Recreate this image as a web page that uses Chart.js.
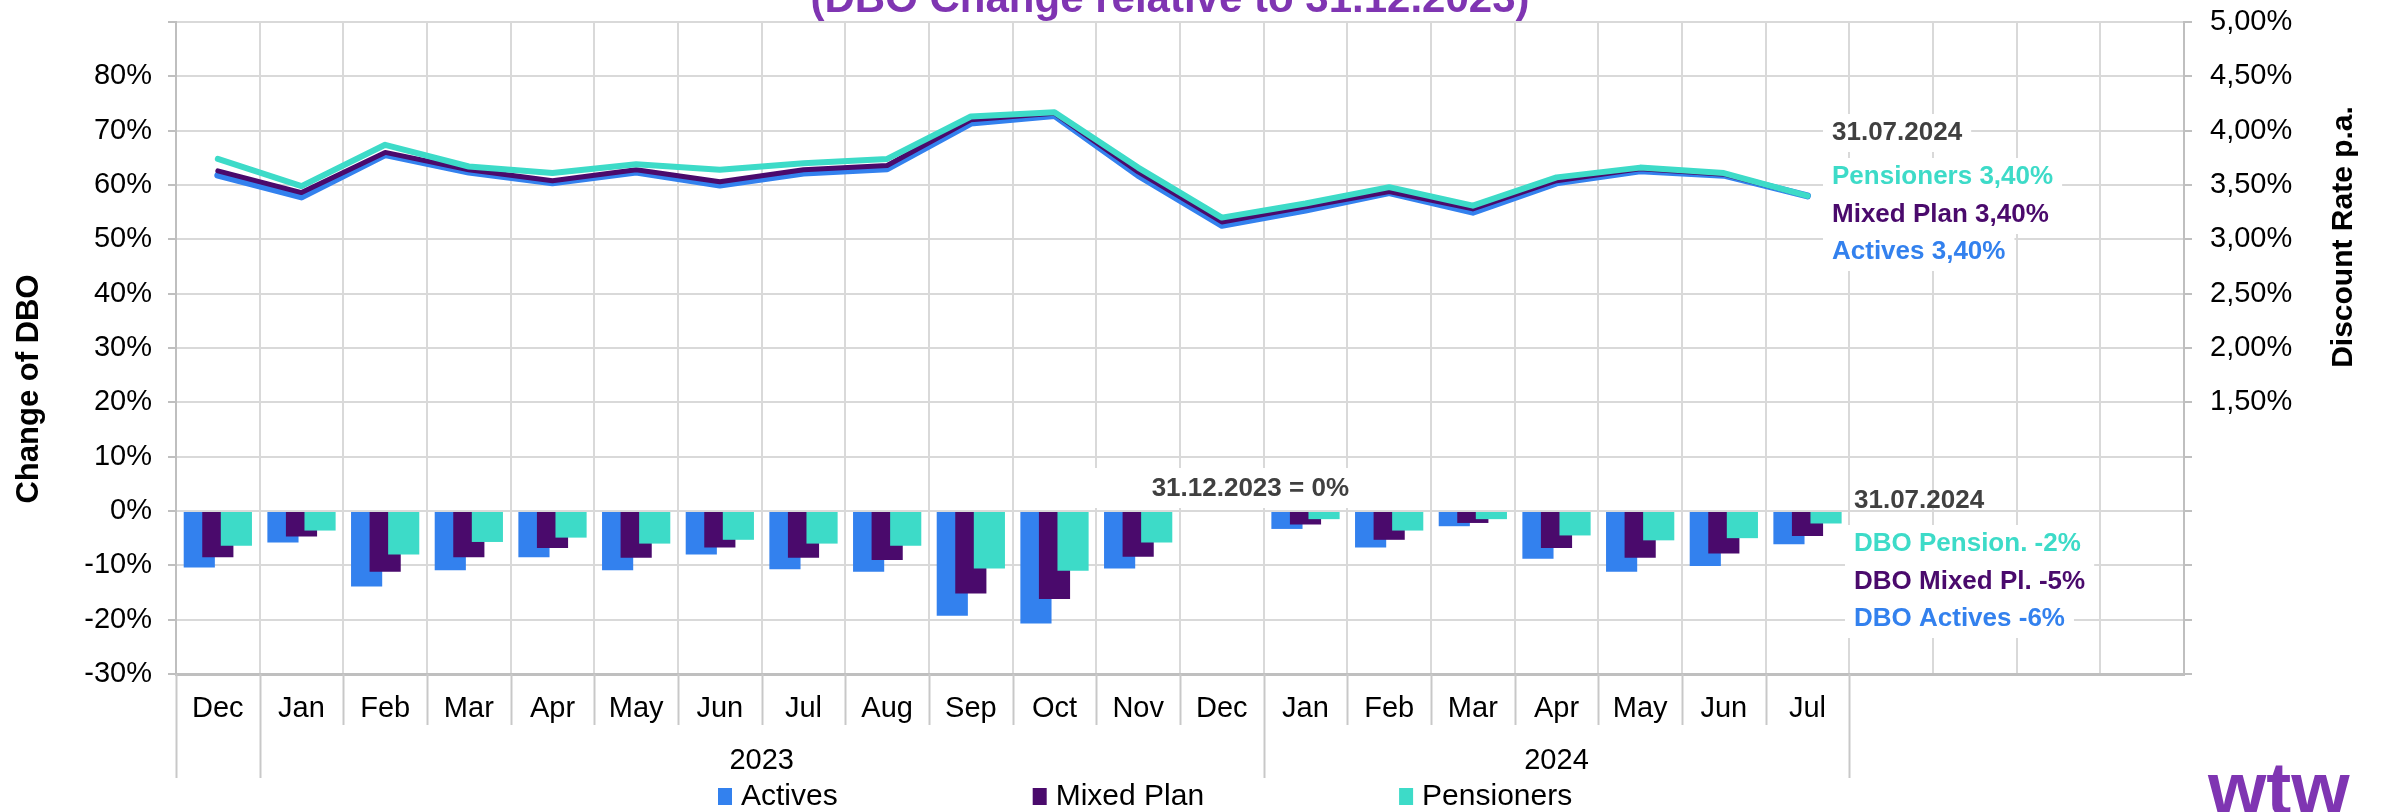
<!DOCTYPE html>
<html>
<head>
<meta charset="utf-8">
<script src="https://cdn.jsdelivr.net/npm/chart.js@4.4.1/dist/chart.umd.min.js"></script>
<style>
  html, body { margin: 0; padding: 0; background: #fff; }
  canvas { display: block; }
</style>
</head>
<body>
<canvas id="dboChart" width="2381" height="812"></canvas>
<script>
// Month axis: Dec 2022 .. Jul 2024, then 4 empty slots for the notes
const months = ['Dec', 'Jan', 'Feb', 'Mar', 'Apr', 'May', 'Jun', 'Jul', 'Aug', 'Sep', 'Oct', 'Nov',
                'Dec', 'Jan', 'Feb', 'Mar', 'Apr', 'May', 'Jun', 'Jul', '', '', '', ''];
const years = [{ label: '2023', from: 1, to: 13 }, { label: '2024', from: 13, to: 20 }];

// DBO change relative to 31.12.2023 (%)
const dboActives    = [-10.4, -5.8, -13.9, -10.9, -8.5, -10.9, -8.0, -10.7, -11.2, -19.3, -20.7, -10.6, 0, -3.3, -6.7, -2.8, -8.8, -11.2, -10.1, -6.1];
const dboMixed      = [-8.5, -4.7, -11.2, -8.5, -6.8, -8.6, -6.7, -8.6, -9.0, -15.2, -16.2, -8.4, 0, -2.5, -5.3, -2.2, -6.8, -8.6, -7.8, -4.6];
const dboPensioners = [-6.4, -3.6, -8.0, -5.7, -4.9, -6.0, -5.3, -6.0, -6.4, -10.6, -11.0, -5.8, 0, -1.5, -3.6, -1.5, -4.5, -5.4, -5.0, -2.3];

// Discount rate p.a. (%)
const rateActives    = [3.59, 3.39, 3.78, 3.62, 3.52, 3.62, 3.50, 3.61, 3.65, 4.07, 4.14, 3.59, 3.13, 3.27, 3.43, 3.25, 3.52, 3.63, 3.59, 3.40];
const rateMixed      = [3.63, 3.43, 3.80, 3.64, 3.54, 3.64, 3.53, 3.64, 3.68, 4.10, 4.16, 3.62, 3.16, 3.30, 3.44, 3.28, 3.54, 3.65, 3.60, 3.40];
const ratePensioners = [3.74, 3.49, 3.87, 3.67, 3.61, 3.69, 3.64, 3.70, 3.74, 4.13, 4.17, 3.66, 3.20, 3.33, 3.48, 3.31, 3.57, 3.66, 3.61, 3.40];

const BLUE = '#3381EE', PURPLE = '#4A0A6C', TEAL = '#3DDBC8', GREY = '#404040', BRAND = '#7F35B2';
const FONT = "'Liberation Sans', Arial, sans-serif";
const GRID = '#D9D9D9', AXIS = '#BFBFBF';

Chart.defaults.font.family = FONT;
Chart.defaults.color = '#000';

// notes on the right side and at Dec 2023 (pixel layout)
const notes = [
    { text: '31.07.2024', x: 1832, y: 133, color: GREY, box: true },
    { text: 'Pensioners 3,40%', x: 1832, y: 177, color: TEAL, box: true },
    { text: 'Mixed Plan 3,40%', x: 1832, y: 215, color: PURPLE, box: true },
    { text: 'Actives 3,40%', x: 1832, y: 252, color: BLUE, box: true },
    { text: '31.07.2024', x: 1854, y: 501, color: GREY, box: false },
    { text: 'DBO Pension. -2%', x: 1854, y: 544, color: TEAL, box: true },
    { text: 'DBO Mixed Pl. -5%', x: 1854, y: 582, color: PURPLE, box: true },
    { text: 'DBO Actives -6%', x: 1854, y: 619, color: BLUE, box: true }
];

function boundary(chart, i) {
    const xs = chart.scales.x;
    return xs.left + i * (xs.right - xs.left) / months.length;
}

const notesPlugin = {
    id: 'notes',
    beforeDatasetsDraw(chart) {
        const ctx = chart.ctx;
        ctx.save();
        ctx.font = `bold 26px ${FONT}`;
        ctx.textBaseline = 'middle';
        ctx.textAlign = 'left';
        notes.forEach(n => {
            const w = ctx.measureText(n.text).width;
            if (n.box) {
                ctx.fillStyle = '#fff';
                ctx.fillRect(n.x - 9, n.y - 19, w + 18, 38);
            }
            ctx.fillStyle = n.color;
            ctx.fillText(n.text, n.x, n.y);
        });
        // base date label
        ctx.fillStyle = '#fff';
        ctx.fillRect(1018, 468, 334, 40);
        ctx.fillStyle = GREY;
        ctx.textAlign = 'right';
        ctx.fillText('31.12.2023 = 0%', 1349, 489);
        ctx.restore();
    }
};

// bars overlap: draw Actives first so Pensioners end on top, lines above all
const barOrder = {
    id: 'barOrder',
    beforeDatasetsDraw(chart) {
        const ctx = chart.ctx, a = chart.chartArea;
        ctx.save();
        ctx.beginPath();
        ctx.rect(a.left, a.top, a.right - a.left, a.bottom - a.top);
        ctx.clip();
        chart.data.datasets.forEach((d, i) => {
            if (d.type === 'bar') chart.getDatasetMeta(i).controller.draw();
        });
        ctx.restore();
    },
    beforeDatasetDraw(chart, args) {
        if (args.meta.type === 'bar') return false;
    }
};

const overlay = {
    id: 'overlay',
    afterDraw(chart) {
        const ctx = chart.ctx;
        const bottom = chart.chartArea.bottom;
        ctx.save();

        // category separators under the axis
        ctx.strokeStyle = '#C8C8C8';
        ctx.lineWidth = 2;
        for (let i = 0; i <= 20; i++) {
            const x = Math.round(boundary(chart, i)) + 0.5;
            const long = i === 0 || i === 20 || years.some(y => y.from === i);
            ctx.beginPath();
            ctx.moveTo(x, bottom);
            ctx.lineTo(x, long ? 778 : 725);
            ctx.stroke();
        }

        // year labels
        ctx.fillStyle = '#000';
        ctx.font = `29px ${FONT}`;
        ctx.textAlign = 'center';
        ctx.textBaseline = 'middle';
        years.forEach(y => {
            ctx.fillText(y.label, (boundary(chart, y.from) + boundary(chart, y.to)) / 2, 761);
        });

        // axis titles
        ctx.font = `bold 31px ${FONT}`;
        ctx.save();
        ctx.translate(29, 389);
        ctx.rotate(-Math.PI / 2);
        ctx.fillText('Change of DBO', 0, 0);
        ctx.restore();
        ctx.font = `bold 30px ${FONT}`;
        ctx.save();
        ctx.translate(2344, 237);
        ctx.rotate(-Math.PI / 2);
        ctx.fillText('Discount Rate p.a.', 0, 0);
        ctx.restore();

        // title, cut off at the top edge
        ctx.fillStyle = BRAND;
        ctx.font = `bold 42px ${FONT}`;
        ctx.textBaseline = 'alphabetic';
        ctx.fillText('(DBO Change relative to 31.12.2023)', 1170, 12);

        // legend (bars only)
        let lx = 718;
        ctx.textAlign = 'left';
        ctx.textBaseline = 'middle';
        ctx.font = `30px ${FONT}`;
        chart.data.datasets.filter(d => d.type === 'bar').forEach(d => {
            ctx.fillStyle = d.backgroundColor;
            ctx.fillRect(lx, 788, 14, 17);
            ctx.fillStyle = '#000';
            ctx.fillText(d.label, lx + 23, 797);
            lx += 23 + ctx.measureText(d.label).width + 195;
        });

        // logo
        ctx.fillStyle = BRAND;
        ctx.font = `bold 75px ${FONT}`;
        ctx.textBaseline = 'alphabetic';
        ctx.fillText('wtw', 2208, 814);
        ctx.restore();
    }
};

const barStyle = { type: 'bar', yAxisID: 'y', borderWidth: 0, categoryPercentage: 0.665, barPercentage: 1.68 };
const lineStyle = { type: 'line', yAxisID: 'y1', pointRadius: 0, tension: 0, fill: false, borderCapStyle: 'round', borderJoinStyle: 'round' };

new Chart(document.getElementById('dboChart'), {
    data: {
        labels: months,
        datasets: [
            { ...barStyle, label: 'Actives', data: dboActives, backgroundColor: BLUE },
            { ...barStyle, label: 'Mixed Plan', data: dboMixed, backgroundColor: PURPLE },
            { ...barStyle, label: 'Pensioners', data: dboPensioners, backgroundColor: TEAL },
            { ...lineStyle, label: 'Actives rate', data: rateActives, borderColor: BLUE, borderWidth: 7, order: -1 },
            { ...lineStyle, label: 'Mixed Plan rate', data: rateMixed, borderColor: PURPLE, borderWidth: 5, order: -2 },
            { ...lineStyle, label: 'Pensioners rate', data: ratePensioners, borderColor: TEAL, borderWidth: 6, order: -3 }
        ]
    },
    options: {
        responsive: false,
        animation: false,
        devicePixelRatio: 1,
        layout: { padding: { top: 22, left: 0, right: 0, bottom: 0 } },
        plugins: { legend: { display: false }, tooltip: { enabled: false } },
        scales: {
            x: {
                offset: true,
                grid: { color: GRID, lineWidth: 2, offset: true, drawTicks: false },
                border: { color: AXIS, width: 3 },
                ticks: { font: { size: 29 }, color: '#000', padding: 18, autoSkip: false, maxRotation: 0 },
                afterFit: s => { s.height = 138; }
            },
            y: {
                position: 'left',
                min: -30, max: 90,
                grid: { color: GRID, lineWidth: 2, tickLength: 8, tickColor: AXIS },
                border: { color: AXIS, width: 2 },
                ticks: {
                    stepSize: 10, font: { size: 29 }, color: '#000', padding: 16,
                    callback: v => v >= 90 ? '' : v + '%'
                },
                afterFit: s => { s.width = 176; s.paddingTop = 0; s.paddingBottom = 0; }
            },
            y1: {
                position: 'right',
                min: -1, max: 5,
                grid: { drawOnChartArea: false, tickLength: 8, tickColor: AXIS, lineWidth: 2 },
                border: { color: AXIS, width: 2 },
                ticks: {
                    stepSize: 0.5, font: { size: 29 }, color: '#000', padding: 18,
                    callback: v => v < 1.5 ? '' : v.toFixed(2).replace('.', ',') + '%'
                },
                afterFit: s => { s.width = 197; s.paddingTop = 0; s.paddingBottom = 0; }
            }
        }
    },
    plugins: [notesPlugin, barOrder, overlay]
});
</script>
</body>
</html>
